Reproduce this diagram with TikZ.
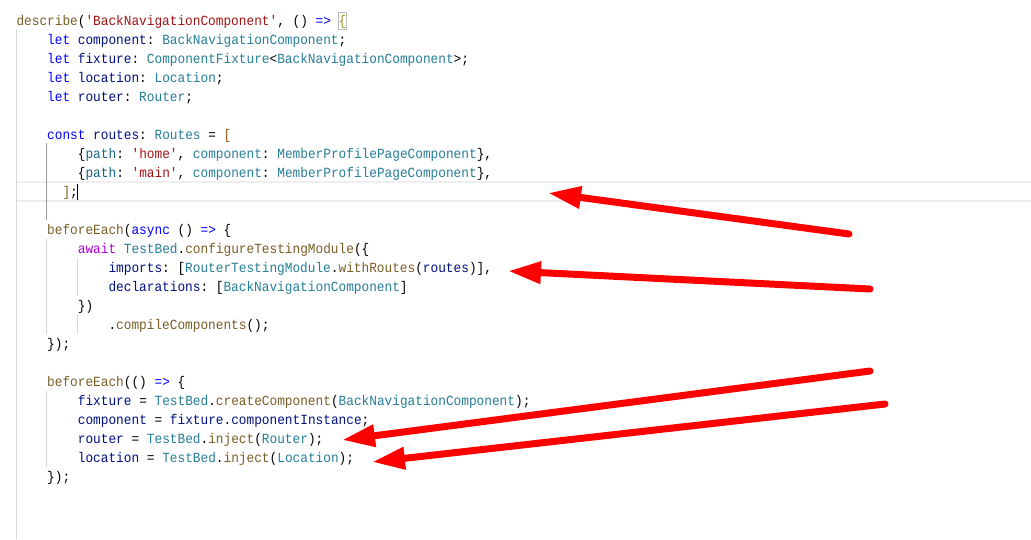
\documentclass[tikz,border=0pt]{standalone}
\usepackage{fontspec}
\usetikzlibrary{arrows.meta}
\newfontfamily\codefont[FakeStretch=0.913]{Liberation Mono}
\definecolor{kwblue}{HTML}{0000FF}
\definecolor{fnbrown}{HTML}{795E26}
\definecolor{strred}{HTML}{A31515}
\definecolor{typeteal}{HTML}{267F99}
\definecolor{varnavy}{HTML}{001080}
\definecolor{awpurple}{HTML}{AF00DB}
\definecolor{keyteal}{HTML}{1A6585}
\definecolor{brgold}{HTML}{A08A1A}
\definecolor{brbrown}{HTML}{8A5A1A}
\definecolor{guide}{HTML}{D6D6D6}
\definecolor{guideact}{HTML}{9A9A9A}
\definecolor{hiline}{HTML}{EEEEEE}
\definecolor{arrowred}{HTML}{FF0000}
\newcommand\cK[1]{\textcolor{kwblue}{#1}}
\newcommand\cF[1]{\textcolor{fnbrown}{#1}}
\newcommand\cS[1]{\textcolor{strred}{#1}}
\newcommand\cT[1]{\textcolor{typeteal}{#1}}
\newcommand\cV[1]{\textcolor{varnavy}{#1}}
\newcommand\cA[1]{\textcolor{awpurple}{#1}}
\newcommand\cKey[1]{\textcolor{keyteal}{#1}}
\newcommand\cBr[1]{\textcolor{brbrown}{#1}}
\newcommand\cBg[1]{\textcolor{brgold}{#1}}
\frenchspacing
\begin{document}
\begin{tikzpicture}[x=1pt,y=-1pt,
  codeline/.style={anchor=base west,inner sep=0pt,outer sep=0pt,
    font=\codefont\fontsize{14}{19}\selectfont\frenchspacing},
  guideline/.style={draw=guide,line width=1pt},
  activeguide/.style={draw=guideact,line width=1pt},
  redarrow/.style={draw=arrowred,line width=7pt,line cap=round,
    -{Triangle[length=33pt,width=21pt]}}]
\useasboundingbox[fill=white] (0,0) rectangle (1031,539);
% current line highlight
\draw[hiline,line width=2pt] (17,182) -- (1031,182);
\draw[hiline,line width=2pt] (17,200.5) -- (1031,200.5);
% indent guides
\draw[guideline] (16.5,30) -- (16.5,539);
\draw[activeguide] (46.7,143) -- (46.7,220);
\draw[guideline] (46.7,239) -- (46.7,334);
\draw[guideline] (77.4,258) -- (77.4,296);
\draw[guideline] (77.4,315) -- (77.4,334);
\draw[guideline] (46.7,391) -- (46.7,467);
% bracket match box
\draw[draw=gray!55,line width=0.8pt] (338,12) rectangle (346,29);
% code
\node[codeline] (l0) at (16.5,25) {\cF{describe}(\cS{'BackNavigationComponent'}, () \cK{=>} \cBg{\{}};
\node[codeline] (l1) at (47.2,44.04) {\cK{let} \cV{component}: \cT{BackNavigationComponent};};
\node[codeline] (l2) at (47.2,63.08) {\cK{let} \cV{fixture}: \cT{ComponentFixture}<\cT{BackNavigationComponent}>;};
\node[codeline] (l3) at (47.2,82.12) {\cK{let} \cV{location}: \cT{Location};};
\node[codeline] (l4) at (47.2,101.16) {\cK{let} \cV{router}: \cT{Router};};
\node[codeline] (l6) at (47.2,139.24) {\cK{const} \cV{routes}: \cT{Routes} = \cBr{[}};
\node[codeline] (l7) at (77.9,158.28) {\{\cKey{path}: \cS{'home'}, \cT{component}: \cT{MemberProfilePageComponent}\},};
\node[codeline] (l8) at (77.9,177.32) {\{\cKey{path}: \cS{'main'}, \cT{component}: \cT{MemberProfilePageComponent}\},};
\node[codeline] (l9) at (62.5,196.36) {\cBr{]};};
\node[codeline] (l11) at (47.2,234.44) {\cF{beforeEach}(\cK{async} () \cK{=>} \{};
\node[codeline] (l12) at (77.9,253.48) {\cA{await} \cT{TestBed}.\cF{configureTestingModule}(\{};
\node[codeline] (l13) at (108.5,272.52) {\cV{imports}: [\cT{RouterTestingModule}.\cF{withRoutes}(\cV{routes})],};
\node[codeline] (l14) at (108.5,291.56) {\cV{declarations}: [\cT{BackNavigationComponent}]};
\node[codeline] (l15) at (77.9,310.60) {\})};
\node[codeline] (l16) at (108.5,329.64) {.\cF{compileComponents}();};
\node[codeline] (l17) at (47.2,348.68) {\});};
\node[codeline] (l19) at (47.2,386.76) {\cF{beforeEach}(() \cK{=>} \{};
\node[codeline] (l20) at (77.9,405.80) {\cV{fixture} = \cT{TestBed}.\cF{createComponent}(\cT{BackNavigationComponent});};
\node[codeline] (l21) at (77.9,424.84) {\cV{component} = \cV{fixture}.\cV{componentInstance};};
\node[codeline] (l22) at (77.9,443.88) {\cV{router} = \cT{TestBed}.\cF{inject}(\cT{Router});};
\node[codeline] (l23) at (77.9,462.92) {\cV{location} = \cT{TestBed}.\cF{inject}(\cT{Location});};
\node[codeline] (l24) at (47.2,481.96) {\});};
% cursor
\draw[black,line width=1.6pt] (77.4,183.5) -- (77.4,199.5);
% arrows
\coordinate (a1s) at (849,234);
\coordinate (a1e) at (548,193);
\coordinate (a2s) at (870,289);
\coordinate (a2e) at (508,271);
\coordinate (a3s) at (870,371);
\coordinate (a3e) at (342,440);
\coordinate (a4s) at (885,404);
\coordinate (a4e) at (372,462);
\draw[redarrow] (a1s) -- (a1e);
\draw[redarrow] (a2s) -- (a2e);
\draw[redarrow] (a3s) -- (a3e);
\draw[redarrow] (a4s) -- (a4e);
\end{tikzpicture}
\end{document}
